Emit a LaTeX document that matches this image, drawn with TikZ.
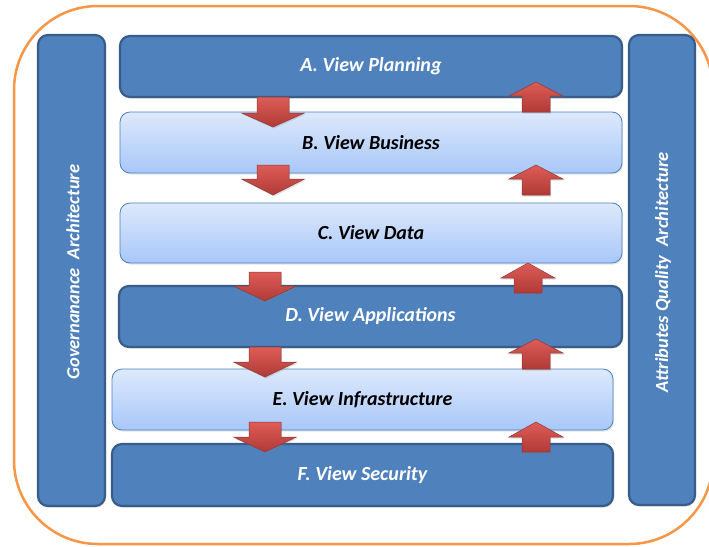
\documentclass[tikz,border=0pt]{standalone}
\usepackage{fontspec}
\setmainfont{Carlito}
\usetikzlibrary{shadows}
\definecolor{dkblue}{HTML}{4F81BD}
\definecolor{dkedge}{HTML}{385D8A}
\definecolor{ltTop}{HTML}{DDE9FC}
\definecolor{ltBot}{HTML}{A8C7F9}
\definecolor{arrowtop}{HTML}{DE5C57}
\definecolor{arrowbot}{HTML}{B03A37}
\definecolor{arrowedge}{HTML}{8C3A38}
\definecolor{frameorange}{HTML}{F79646}
\newcommand\dnarr[5]{\path[redarrow] (#2-16,#3) -- (#2+16,#3) -- (#2+16,#4) -- (#2+31.5,#4) -- (#2,#5) coordinate (#1) -- (#2-31.5,#4) -- (#2-16,#4) -- cycle;}
\newcommand\uparr[5]{\path[redarrow] (#2,#3) coordinate (#1) -- (#2+27,#4) -- (#2+14,#4) -- (#2+14,#5) -- (#2-14,#5) -- (#2-14,#4) -- (#2-27,#4) -- cycle;}
\begin{document}
\begin{tikzpicture}[x=1pt,y=-1pt,
  lbl/.style={font=\fontsize{20}{23}\selectfont\bfseries\itshape},
  vlbl/.style={font=\fontsize{18.5}{22}\selectfont\bfseries\itshape, text=white, rotate=90},
  darkbox/.style={lbl, draw=dkedge, line width=2.2pt, fill=dkblue, rounded corners=10pt, text=white, inner sep=0pt,
     drop shadow={opacity=0.25, shadow xshift=1pt, shadow yshift=-1.5pt}},
  lightbox/.style={lbl, draw=dkblue, line width=0.8pt, top color=ltTop, bottom color=ltBot, rounded corners=10pt, text=black, inner sep=0pt,
     drop shadow={opacity=0.2, shadow xshift=1pt, shadow yshift=-1.5pt}},
  redarrow/.style={draw=arrowedge, line width=0.5pt, top color=arrowtop, bottom color=arrowbot,
     drop shadow={opacity=0.25, shadow xshift=1pt, shadow yshift=-1.5pt}}]
\useasboundingbox (0,0) rectangle (709,546);
\fill[white] (0,0) rectangle (709,546);
\draw[frameorange, line width=2.5pt, rounded corners=84pt] (14,6) rectangle (713,544);

\node[darkbox, minimum width=67pt, minimum height=471pt] (gov) at (71.5,270.5) {};
\node[vlbl] (govt) at (73,272) {Governanance\hspace{0.5em}Architecture};
\node[darkbox, minimum width=66pt, minimum height=470pt] (qual) at (662,270) {};
\node[vlbl] (qualt) at (663,272) {Attributes Quality\hspace{0.5em}Architecture};

\node[darkbox, minimum width=502pt, minimum height=61pt] (A) at (371,66.5) {A. View Planning};
\node[lightbox, minimum width=502pt, minimum height=61pt] (B) at (371,142.5) {B. View Business};
\node[lightbox, minimum width=502pt, minimum height=60pt] (C) at (371,233) {C. View Data};
\node[darkbox, minimum width=503pt, minimum height=61pt] (D) at (370.5,316.5) {D. View Applications};
\node[lightbox, minimum width=501pt, minimum height=61pt] (E) at (362.5,399.5) {E. View Infrastructure};
\node[darkbox, minimum width=501pt, minimum height=62pt] (F) at (362.5,475) {F. View Security};

\dnarr{d1}{273}{97}{113}{127}
\dnarr{d2}{273}{165}{179}{195}
\dnarr{d3}{265}{272}{286}{301}
\dnarr{d4}{265}{347}{362}{377}
\dnarr{d5}{265}{422}{437}{452}

\uparr{u1}{536}{82}{96}{112}
\uparr{u2}{536}{165}{179}{195}
\uparr{u3}{528}{263}{278}{293}
\uparr{u4}{536}{339}{353}{369}
\uparr{u5}{536}{422}{437}{452}
\end{tikzpicture}
\end{document}
